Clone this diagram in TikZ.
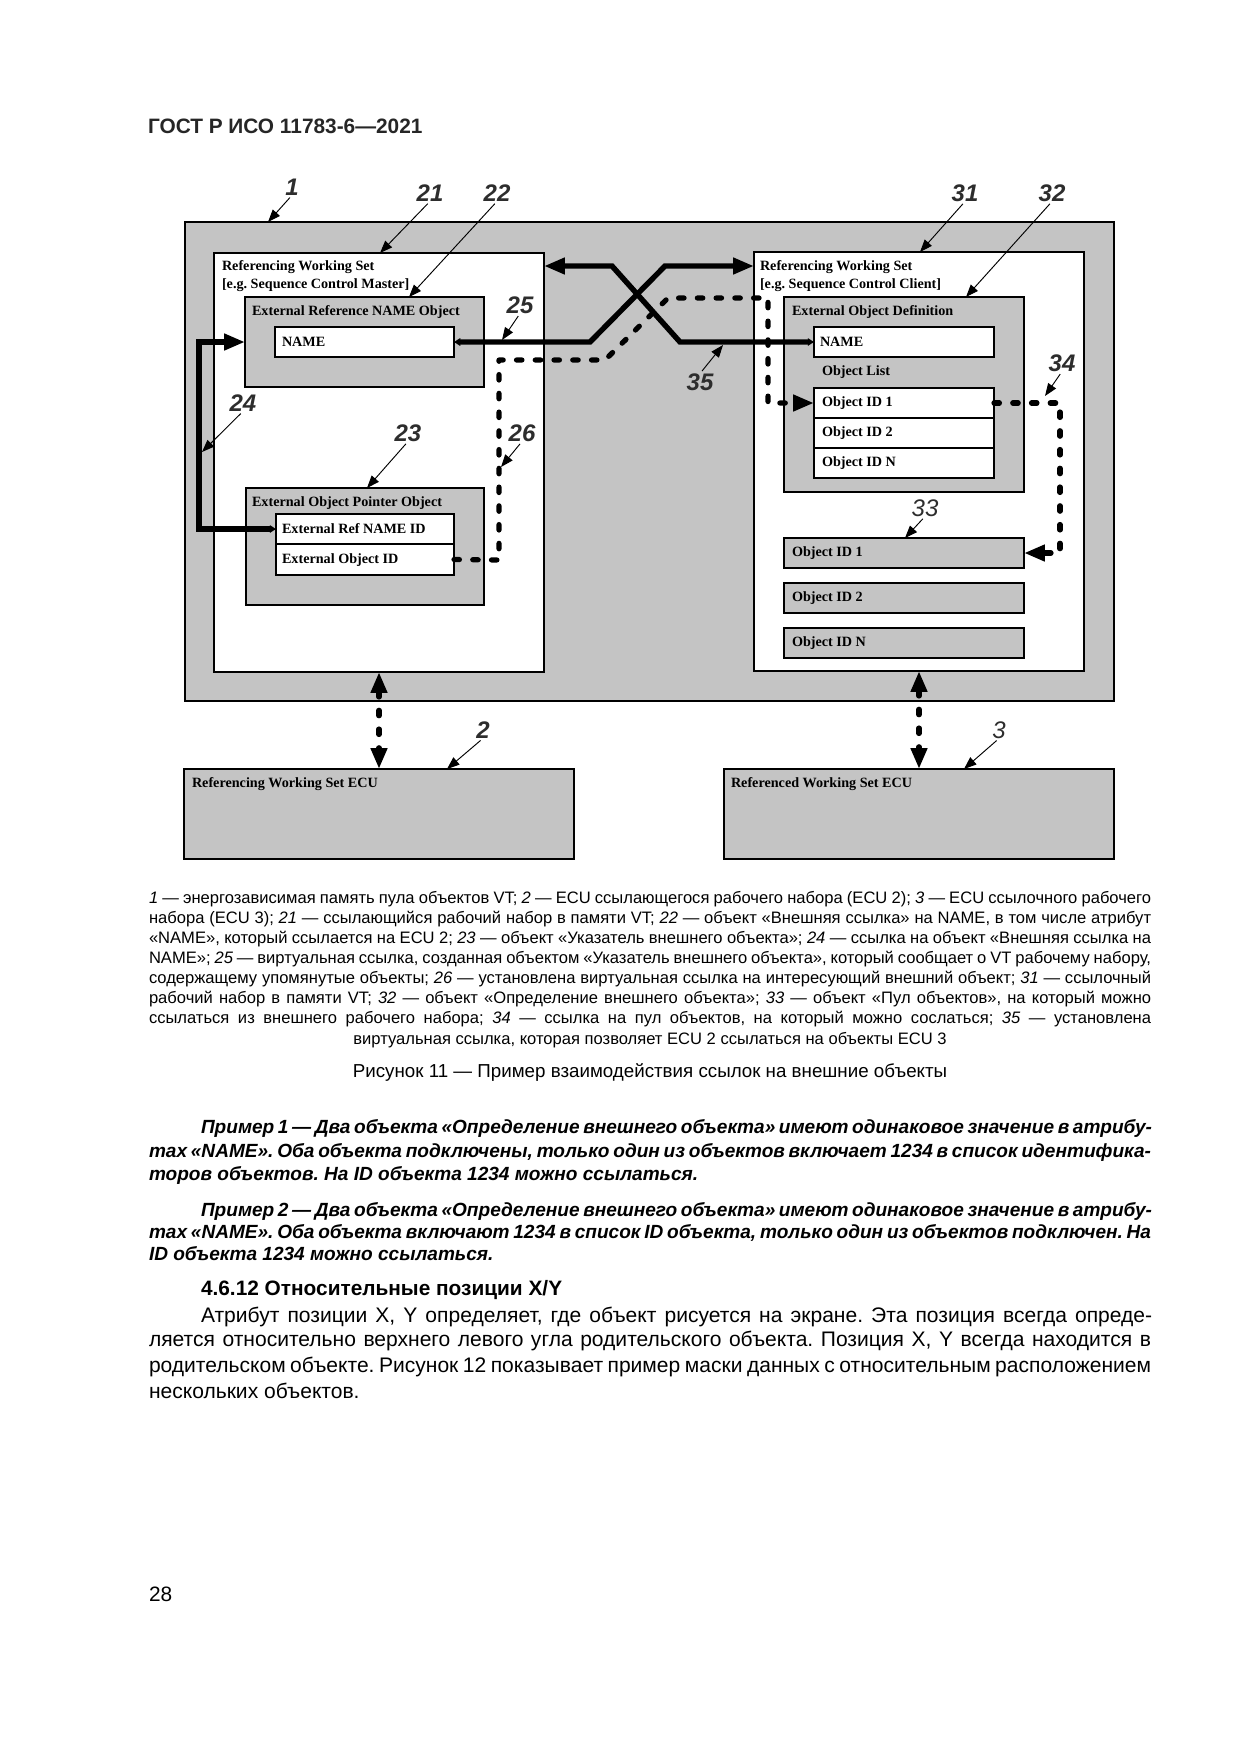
\documentclass[tikz,border=0pt]{standalone}
\usepackage{fontspec}
\setmainfont{Liberation Sans}
\newfontfamily\serifd{Liberation Serif}
\usetikzlibrary{arrows.meta,fit,calc}
\definecolor{boxgray}{RGB}{196,196,196}
\definecolor{labgray}{RGB}{45,45,45}
\frenchspacing
\tikzset{
  every node/.style={inner sep=0pt, outer sep=0pt},
  gbox/.style={draw=black, line width=0.6pt, fill=boxgray, inner sep=0pt},
  wbox/.style={draw=black, line width=0.6pt, fill=white, inner sep=0pt},
  dtext/.style={anchor=west, font=\serifd\bfseries\fontsize{6.8}{8.2}\selectfont},
  num/.style={font=\bfseries\itshape\fontsize{11.5}{12}\selectfont, text=labgray},
  numr/.style={font=\itshape\fontsize{11.5}{12}\selectfont, text=labgray},
  BigT/.tip={Triangle[length=10pt,width=7.5pt]},
  SmallT/.tip={Triangle[length=3pt,width=3.6pt]},
  LeadT/.tip={Triangle[length=6pt,width=4.5pt]},
  leader/.style={draw=black, line width=0.45pt, -{LeadT}, shorten <=1.5pt},
  thicklink/.style={line width=2.6pt, line join=miter},
  dotlink/.style={line width=2.5pt, line cap=round, line join=round, dash pattern=on 2.6pt off 6.4pt},
  captxt/.style={anchor=base west, font=\fontsize{7.95}{9.6}\selectfont},
  extxt/.style={anchor=base west, font=\bfseries\itshape\fontsize{9.15}{11}\selectfont},
  bodytxt/.style={anchor=base west, font=\fontsize{10.1}{12}\selectfont}
}
\begin{document}
\begin{tikzpicture}[x=0.48pt,y=-0.48pt]
\useasboundingbox[fill=white] (0,0) rectangle (1240,1754);

% header
\node[anchor=base west, font=\bfseries\fontsize{10}{12}\selectfont, text=black!85] (hdr) at (148,133.5) {ГОСТ Р ИСО 11783-6—2021};

% ---------- boxes ----------
\node[gbox, fit={(185,222) (1114,701)}] (vtpool) {};
\node[wbox, fit={(214,253) (544,672)}] (ws21) {};
\node[gbox, fit={(245,297) (484,387)}] (ern22) {};
\node[wbox, fit={(275,327) (454,357)}] (name22) {};
\node[gbox, fit={(246,488) (484,605)}] (eop23) {};
\node[wbox, fit={(276,514) (454,544)}] (refid) {};
\node[wbox, fit={(276,544) (454,575)}] (objid) {};

\node[wbox, fit={(754,252) (1084,671)}] (ws31) {};
\node[gbox, fit={(784,297) (1024,492)}] (eod32) {};
\node[wbox, fit={(814,327) (994,357)}] (name32) {};
\node[wbox, fit={(814,388) (994,418)}] (oid1) {};
\node[wbox, fit={(814,418) (994,448)}] (oid2) {};
\node[wbox, fit={(814,448) (994,478)}] (oidN) {};
\node[gbox, fit={(784,538) (1024,568)}] (pl1) {};
\node[gbox, fit={(784,583) (1024,613)}] (pl2) {};
\node[gbox, fit={(784,628) (1024,658)}] (plN) {};

\node[gbox, fit={(184,769) (574,859)}] (ecu2) {};
\node[gbox, fit={(724,769) (1114,859)}] (ecu3) {};

% ---------- box texts ----------
\node[dtext] (tx21a) at (222,267) {Referencing Working Set};
\node[dtext] (tx21b) at (222,285) {[e.g. Sequence Control Master]};
\node[dtext] (tx22) at (252,312) {External Reference NAME Object};
\node[dtext] (txn22) at (282,342) {NAME};
\node[dtext] (tx23) at (252,503) {External Object Pointer Object};
\node[dtext] (txrefid) at (282,529) {External Ref NAME ID};
\node[dtext] (txobjid) at (282,560) {External Object ID};

\node[dtext] (tx31a) at (760,267) {Referencing Working Set};
\node[dtext] (tx31b) at (760,285) {[e.g. Sequence Control Client]};
\node[dtext] (tx32) at (792,312) {External Object Definition};
\node[dtext] (txn32) at (820,342) {NAME};
\node[dtext] (txol) at (822,372) {Object List};
\node[dtext] (txo1) at (822,403) {Object ID 1};
\node[dtext] (txo2) at (822,433) {Object ID 2};
\node[dtext] (txoN) at (822,463) {Object ID N};
\node[dtext] (txp1) at (792,553) {Object ID 1};
\node[dtext] (txp2) at (792,598) {Object ID 2};
\node[dtext] (txpN) at (792,643) {Object ID N};

\node[dtext] (txecu2) at (192,784) {Referencing Working Set ECU};
\node[dtext] (txecu3) at (731,784) {Referenced Working Set ECU};

% ---------- connectors ----------
% 24
\coordinate (c1) at (199,529);
\coordinate (c2) at (199,342);
\draw[thicklink, {SmallT}-{BigT}] (refid.west) -- (c1) -- (c2) -- (ern22.west);

% 26 (dotted)
\coordinate (d1) at (499,560);
\coordinate (d2) at (499,360);
\coordinate (d3) at (605,360);
\coordinate (d4) at (668,298);
\coordinate (d5) at (768,298);
\draw[dotlink, -{BigT}] (objid.east) -- (d1) -- (d2) -- (d3) -- (d4) -- (d5) -- (d5 |- oid1.west) -- (oid1.west);

% 25 (line from NAME of 22 to working set 31)
\coordinate (b1) at (590,342);
\coordinate (b2) at (665,266);
\draw[thicklink, {SmallT}-{BigT}] (name22.east) -- (b1) -- (b2) -- (ws31.west |- b2);

% 35 (line from NAME of 32 to working set 21)
\coordinate (a1) at (680,342);
\coordinate (a2) at (612,266);
\draw[thicklink, {SmallT}-{BigT}] (name32.west) -- (a1) -- (a2) -- (ws21.east |- a2);

% 34 (dotted)
\coordinate (e1) at (1060,403);
\draw[dotlink, -{BigT}] (oid1.east) -- (oid1.east -| e1) -- (e1 |- pl1.east) -- (pl1.east);

% links to ECUs
\draw[dotlink, {BigT}-{BigT}] (ws21.south) -- (ecu2.north);
\draw[dotlink, {BigT}-{BigT}] (ws31.south) -- (ecu3.north);

% ---------- number labels and leaders ----------
\node[num] (n1) at (292,187) {1};
\node[num] (n21) at (430,193) {21};
\node[num] (n22) at (497,193) {22};
\node[num] (n25) at (520,305) {25};
\node[num] (n24) at (243,403) {24};
\node[num] (n23) at (408,433) {23};
\node[num] (n26) at (522,433) {26};
\node[num] (n31) at (965,193) {31};
\node[num] (n32) at (1052,193) {32};
\node[num] (n35) at (700,382) {35};
\node[num] (n34) at (1062,363) {34};
\node[numr] (n33) at (925,508) {33};
\node[num] (n2) at (483,730) {2};
\node[numr] (n3) at (999,730) {3};

\coordinate (t1) at (268,222);
\coordinate (t21) at (380,253);
\coordinate (t22) at (409,297);
\coordinate (t25) at (502,340);
\coordinate (t24) at (202,452);
\coordinate (t23) at (367,488);
\coordinate (t26) at (501,467);
\coordinate (t31) at (920,252);
\coordinate (t32) at (966,297);
\coordinate (t35) at (723,345);
\coordinate (t34) at (1045,396);
\coordinate (t33) at (905,538);
\coordinate (t2) at (447,769);
\coordinate (t3) at (964,769);

\draw[leader] (n1.south) -- (t1);
\draw[leader] (n21.south) -- (t21);
\draw[leader] (n22.south) -- (t22);
\draw[leader] (n25.south) -- (t25);
\draw[leader] (n24.south) -- (t24);
\draw[leader] (n23.south) -- (t23);
\draw[leader] (n26.south) -- (t26);
\draw[leader] (n31.south) -- (t31);
\draw[leader] (n32.south) -- (t32);
\draw[leader] (n35.north) -- (t35);
\draw[leader] (n34.south) -- (t34);
\draw[leader] (n33.south) -- (t33);
\draw[leader] (n2.south) -- (t2);
\draw[leader] (n3.south) -- (t3);

% ---------- legend ----------
\node[captxt] (cap1) at (149,903) {\makebox[481pt][s]{\textit{1} — энергозависимая память пула объектов VT; \textit{2} — ECU ссылающегося рабочего набора (ECU 2); \textit{3} — ECU ссылочного рабочего}};
\node[captxt] (cap2) at (149,923) {\makebox[481pt][s]{набора (ECU 3); \textit{21} — ссылающийся рабочий набор в памяти VT; \textit{22} — объект «Внешняя ссылка» на NAME, в том числе атрибут}};
\node[captxt] (cap3) at (149,943) {\makebox[481pt][s]{«NAME», который ссылается на ECU 2; \textit{23} — объект «Указатель внешнего объекта»; \textit{24} — ссылка на объект «Внешняя ссылка на}};
\node[captxt] (cap4) at (149,963) {\makebox[481pt][s]{NAME»; \textit{25} — виртуальная ссылка, созданная объектом «Указатель внешнего объекта», который сообщает о VT рабочему набору,}};
\node[captxt] (cap5) at (149,983) {\makebox[481pt][s]{содержащему упомянутые объекты; \textit{26} — установлена виртуальная ссылка на интересующий внешний объект; \textit{31} — ссылочный}};
\node[captxt] (cap6) at (149,1003) {\makebox[481pt][s]{рабочий набор в памяти VT; \textit{32} — объект «Определение внешнего объекта»; \textit{33} — объект «Пул объектов», на который можно}};
\node[captxt] (cap7) at (149,1023) {\makebox[481pt][s]{ссылаться из внешнего рабочего набора; \textit{34} — ссылка на пул объектов, на который можно сослаться; \textit{35} — установлена}};
\node[captxt, anchor=base] (cap8) at (650,1044) {виртуальная ссылка, которая позволяет ECU 2 ссылаться на объекты ECU 3};

\node[anchor=base, font=\fontsize{9}{11}\selectfont] (figcap) at (650,1077) {Рисунок 11 — Пример взаимодействия ссылок на внешние объекты};

% ---------- examples ----------
\node[extxt] (ex1a) at (201,1133) {\makebox[456.5pt][s]{Пример 1 — Два объекта «Определение внешнего объекта» имеют одинаковое значение в атрибу-}};
\node[extxt] (ex1b) at (149,1157) {\makebox[481pt][s]{тах «NAME». Оба объекта подключены, только один из объектов включает 1234 в список идентифика-}};
\node[extxt] (ex1c) at (149,1180) {торов объектов. На ID объекта 1234 можно ссылаться.};
\node[extxt] (ex2a) at (201,1216) {\makebox[456.5pt][s]{Пример 2 — Два объекта «Определение внешнего объекта» имеют одинаковое значение в атрибу-}};
\node[extxt] (ex2b) at (149,1238) {\makebox[481pt][s]{тах «NAME». Оба объекта включают 1234 в список ID объекта, только один из объектов подключен. На}};
\node[extxt] (ex2c) at (149,1260) {ID объекта 1234 можно ссылаться.};

% ---------- section ----------
\node[anchor=base west, font=\bfseries\fontsize{10}{12}\selectfont] (sec) at (201,1295) {4.6.12 Относительные позиции X/Y};
\node[bodytxt] (bd1) at (201,1322) {\makebox[456.5pt][s]{Атрибут позиции X, Y определяет, где объект рисуется на экране. Эта позиция всегда опреде-}};
\node[bodytxt] (bd2) at (149,1346) {\makebox[481pt][s]{ляется относительно верхнего левого угла родительского объекта. Позиция X, Y всегда находится в}};
\node[bodytxt] (bd3) at (149,1372) {\makebox[481pt][s]{родительском объекте. Рисунок 12 показывает пример маски данных с относительным расположением}};
\node[bodytxt] (bd4) at (149,1398) {нескольких объектов.};

\node[anchor=base west, font=\fontsize{10}{12}\selectfont] (pg) at (149,1601) {28};
\end{tikzpicture}
\end{document}
